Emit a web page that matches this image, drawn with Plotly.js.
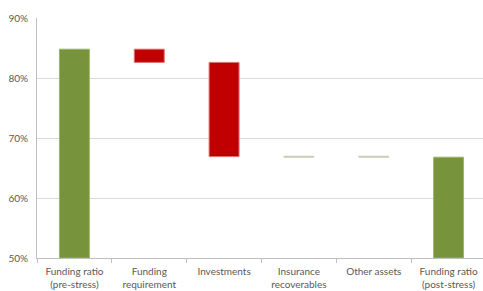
<!DOCTYPE html>
<html>
<head>
<meta charset="utf-8">
<script src="https://cdn.plot.ly/plotly-3.0.1.min.js"></script>
<style>html,body{margin:0;padding:0;overflow:hidden;background:#fff}</style>
</head>
<body>
<div id="chart"></div>
<script>
const categories = ["Funding ratio<br>(pre-stress)", "Funding<br>requirement", "Investments", "Insurance<br>recoverables", "Other assets", "Funding ratio<br>(post-stress)"];
const barLow  = [50, 82.6, 66.9, 66.8, 66.8, 50];
const barHigh = [84.8, 84.8, 82.6, 66.95, 66.95, 66.8];
const barColors = ["#77933C", "#C00000", "#C00000", "#C4CCB0", "#C4CCB0", "#77933C"];
const lineColors = ["#9BB56A", "#E07070", "#E07070", "#C4CCB0", "#C4CCB0", "#9BB56A"];
const yTicks = [50, 60, 70, 80, 90];

const trace = {
  type: "bar",
  x: categories,
  y: barHigh.map((h, i) => h - barLow[i]),
  base: barLow,
  marker: {color: barColors, line: {color: lineColors, width: 1}},
  hoverinfo: "skip"
};

const layout = {
  width: 486, height: 291,
  margin: {l: 37, r: 0, t: 18, b: 33},
  paper_bgcolor: "#fff", plot_bgcolor: "#fff",
  showlegend: false,
  bargap: 0.6,
  font: {family: "Lato, 'Open Sans', sans-serif", size: 10, color: "#595959"},
  xaxis: {
    type: "category",
    showline: true, linecolor: "#BFBFBF", linewidth: 1,
    ticks: "outside", tickson: "boundaries", ticklen: 4, tickcolor: "#BFBFBF",
    ticklabelstandoff: 4,
    showgrid: false, tickfont: {size: 10, color: "#595959"}
  },
  yaxis: {
    range: [50, 90], tickvals: yTicks, ticktext: yTicks.map(v => v + "%"),
    showline: true, linecolor: "#BFBFBF", linewidth: 1,
    showgrid: true, gridcolor: "#D9D9D9", gridwidth: 1,
    zeroline: false, ticks: "", ticklabelstandoff: 6,
    tickfont: {size: 10, color: "#595959"}
  }
};

Plotly.newPlot("chart", [trace], layout, {displayModeBar: false, staticPlot: true});
</script>
</body>
</html>
